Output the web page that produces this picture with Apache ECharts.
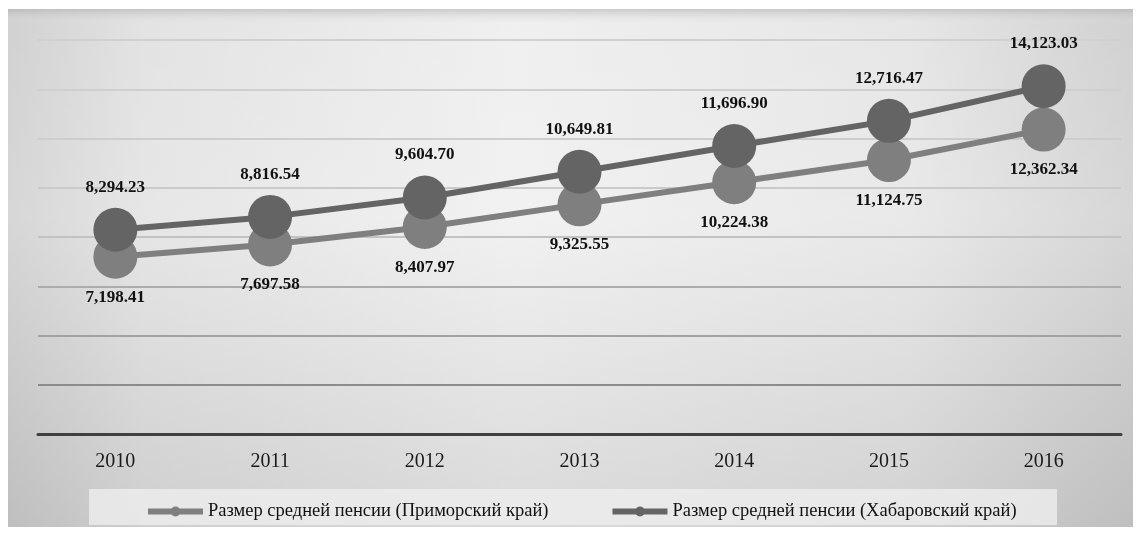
<!DOCTYPE html>
<html><head><meta charset="utf-8">
<script src="https://cdn.jsdelivr.net/npm/echarts@6/dist/echarts.min.js"></script>
<style>html,body{margin:0;padding:0;background:#fff}#c{width:1140px;height:535px}</style>
</head><body><div id="c"></div>
<script>
const years = ['2010','2011','2012','2013','2014','2015','2016'];
const primorsky = [7198.41, 7697.58, 8407.97, 9325.55, 10224.38, 11124.75, 12362.34];
const khabarovsk = [8294.23, 8816.54, 9604.70, 10649.81, 11696.90, 12716.47, 14123.03];
const seriesNames = ['Размер средней пенсии (Приморский край)', 'Размер средней пенсии (Хабаровский край)'];

const font = '"Liberation Serif", "DejaVu Serif", serif';
const fmt = v => v.toLocaleString('en-US', {minimumFractionDigits: 2, maximumFractionDigits: 2});

const chart = echarts.init(document.getElementById('c'), null, {renderer: 'canvas'});
chart.setOption({
  animation: false,
  backgroundColor: '#ffffff',
  graphic: [
    {type: 'rect', z: -10, silent: true, shape: {x: 8, y: 9, width: 1125, height: 518},
      style: {fill: new echarts.graphic.LinearGradient(0, 0, 1, 0, [
        {offset: 0, color: '#c9c9c9'}, {offset: 0.12, color: '#dedede'}, {offset: 0.45, color: '#ededed'},
        {offset: 0.8, color: '#e2e2e2'}, {offset: 1, color: '#c9c9c9'}])}},
    {type: 'rect', z: -9, silent: true, shape: {x: 8, y: 9, width: 1125, height: 518},
      style: {fill: new echarts.graphic.LinearGradient(0, 0, 0, 1, [
        {offset: 0, color: 'rgba(180,180,180,0.6)'}, {offset: 0.03, color: 'rgba(255,255,255,0.15)'},
        {offset: 0.4, color: 'rgba(255,255,255,0.25)'}, {offset: 1, color: 'rgba(160,160,160,0.25)'}])}},
    {type: 'rect', z: -8, silent: true, shape: {x: 89, y: 489, width: 968, height: 36},
      style: {fill: 'rgba(238,238,238,0.8)'}}
  ],
  grid: {left: 38, right: 19, top: 40, bottom: 101, containLabel: false},
  legend: {
    data: seriesNames,
    left: 143, top: 497,
    itemWidth: 55, itemHeight: 12, itemGap: 64,
    textStyle: {fontFamily: font, fontSize: 18.5, color: '#111'},
    icon: 'path://M0,3 L55,3 L55,9 L0,9 Z M22.5,6 A5,5 0 1,1 32.5,6 A5,5 0 1,1 22.5,6 Z'
  },
  xAxis: {
    type: 'category', data: years, boundaryGap: true,
    axisLine: {lineStyle: {color: '#404040', width: 3}},
    axisTick: {show: false},
    axisLabel: {fontFamily: font, fontSize: 20, color: '#1a1a1a', margin: 18}
  },
  yAxis: {
    type: 'value', min: 0, max: 16000, interval: 2000,
    axisLabel: {show: false}, axisLine: {show: false}, axisTick: {show: false},
    splitLine: {lineStyle: {width: 2, color: ['#404040', '#8c8c8c', '#a2a2a2', '#acacac', '#c2c2c2', '#cacaca', '#cdcdcd', '#cfcfcf', '#d0d0d0']}}
  },
  series: [
    {
      name: seriesNames[0], type: 'line', data: primorsky,
      symbol: 'circle', symbolSize: 44,
      lineStyle: {color: '#7f7f7f', width: 6},
      itemStyle: {color: '#7f7f7f'},
      label: {show: true, position: 'bottom', distance: 10, formatter: p => fmt(p.value),
        fontFamily: font, fontSize: 17, fontWeight: 'bold', color: '#111'},
      z: 2
    },
    {
      name: seriesNames[1], type: 'line', data: khabarovsk,
      symbol: 'circle', symbolSize: 44,
      lineStyle: {color: '#646464', width: 6},
      itemStyle: {color: '#646464'},
      label: {show: true, position: 'top', distance: 12, formatter: p => fmt(p.value),
        fontFamily: font, fontSize: 17, fontWeight: 'bold', color: '#111'},
      z: 3
    }
  ]
});
</script></body></html>
